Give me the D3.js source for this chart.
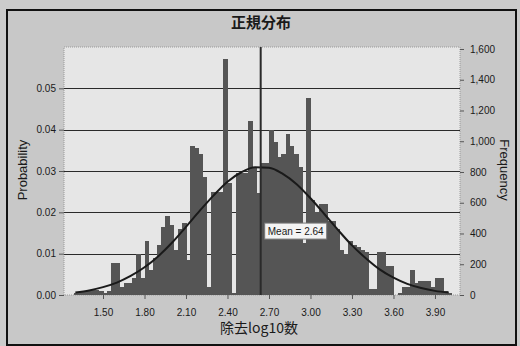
<!DOCTYPE html>
<html>
<head>
<meta charset="utf-8">
<script src="https://cdn.jsdelivr.net/npm/d3@7"></script>
<style>
  html, body { margin: 0; padding: 0; background: #cbcbcb; }
  svg { display: block; }
  text { font-family: "Liberation Sans", Arial, sans-serif; fill: #1a1a1a; }
  .cjk { font-family: "Noto Sans CJK JP", "Noto Sans CJK SC", sans-serif; }
</style>
</head>
<body>
<div id="chart"></div>
<script>
// histogram: bins of width 0.03 starting at 1.26, probability per bin
const binStart = 1.26;
const binWidth = 0.03;
const probs = [
  0, 0.0005, 0.0008, 0.001, 0.0012, 0.0015, 0.0012, 0.001, 0.0006, 0.001,
  0.0077, 0.0077, 0.002, 0.003, 0.003, 0.004, 0.010, 0.004, 0.013, 0.006,
  0.009, 0.012, 0.0165, 0.019, 0.017, 0.011, 0.016, 0.0175, 0.0085, 0.036,
  0.0355, 0.034, 0.0285, 0.002, 0.025, 0.025, 0.025, 0.057, 0.027, 0.0005,
  0.0295, 0.0295, 0.0295, 0.042, 0.031, 0.0247, 0.032, 0.032, 0.040, 0.037,
  0.0335, 0.034, 0.039, 0.036, 0.034, 0.031, 0.0126, 0.0477, 0.023, 0.020,
  0.022, 0.022, 0.018, 0.018, 0.016, 0.011, 0.010, 0.013, 0.012, 0.0115,
  0.011, 0.0105, 0.0015, 0.0015, 0.0103, 0.0103, 0.007, 0.007, 0, 0.0005,
  0.002, 0.002, 0.006, 0.003, 0.0035, 0.0033, 0.0033, 0.002, 0.004, 0.004,
  0.001, 0.0005, 0
];

// fitted normal curve
const curveX = [1.30, 1.40, 1.50, 1.60, 1.70, 1.80, 1.90, 2.00, 2.10, 2.20,
  2.30, 2.40, 2.50, 2.60, 2.70, 2.80, 2.90, 3.00, 3.10, 3.20,
  3.30, 3.40, 3.50, 3.60, 3.70, 3.80, 3.90, 4.00];
const curveY = [0.0006, 0.0011, 0.0019, 0.0030, 0.0046, 0.0067, 0.0094, 0.0127, 0.0165, 0.0204,
  0.0241, 0.0274, 0.0297, 0.0309, 0.0308, 0.0293, 0.0268, 0.0234, 0.0196, 0.0157,
  0.0120, 0.0089, 0.0062, 0.0042, 0.0027, 0.0017, 0.0010, 0.0006];

const meanValue = 2.64;

const xTicks = [1.50, 1.80, 2.10, 2.40, 2.70, 3.00, 3.30, 3.60, 3.90];
const probTicks = [0, 0.01, 0.02, 0.03, 0.04, 0.05];
const freqTicks = [0, 200, 400, 600, 800, 1000, 1200, 1400, 1600];

const width = 520, height = 346;
const plot = { left: 64, right: 460, top: 47, bottom: 295 };

const svg = d3.select('#chart').append('svg')
  .attr('width', width)
  .attr('height', height);

svg.append('rect')
  .attr('width', width).attr('height', height)
  .attr('fill', '#cbcbcb');

// outer frame
svg.append('rect')
  .attr('x', 7).attr('y', 10)
  .attr('width', 509).attr('height', 335)
  .attr('fill', '#c8c8c8')
  .attr('stroke', '#111')
  .attr('stroke-width', 2);

const x = d3.scaleLinear().domain([1.218, 4.081]).range([plot.left, plot.right]);
const y = d3.scaleLinear().domain([0, 0.06]).range([plot.bottom, plot.top]);
const yFreq = d3.scaleLinear().domain([0, 1613]).range([plot.bottom, plot.top]);

// plot area
svg.append('rect')
  .attr('x', plot.left).attr('y', plot.top)
  .attr('width', plot.right - plot.left)
  .attr('height', plot.bottom - plot.top)
  .attr('fill', '#e6e6e6')
  .attr('stroke', '#9a9a9a')
  .attr('stroke-dasharray', '1,1');

// gridlines
svg.append('g')
  .selectAll('line')
  .data(probTicks.filter(d => d > 0))
  .join('line')
  .attr('x1', plot.left).attr('x2', plot.right)
  .attr('y1', d => Math.round(y(d)) + 0.5).attr('y2', d => Math.round(y(d)) + 0.5)
  .attr('stroke', '#2a2a2a')
  .attr('stroke-width', 1.2);

// bars
svg.append('g')
  .attr('shape-rendering', 'crispEdges')
  .selectAll('rect')
  .data(probs)
  .join('rect')
  .attr('x', (d, i) => x(binStart + i * binWidth))
  .attr('width', x(binStart + binWidth) - x(binStart) + 0.6)
  .attr('y', d => y(d))
  .attr('height', d => y(0) - y(d))
  .attr('fill', '#555');

// normal curve
const line = d3.line()
  .x((d, i) => x(curveX[i]))
  .y(d => y(d))
  .curve(d3.curveMonotoneX);

svg.append('path')
  .datum(curveY)
  .attr('fill', 'none')
  .attr('stroke', '#1a1a1a')
  .attr('stroke-width', 2)
  .attr('d', line);

// mean line
svg.append('line')
  .attr('x1', x(meanValue)).attr('x2', x(meanValue))
  .attr('y1', plot.top).attr('y2', plot.bottom)
  .attr('stroke', '#2a2a2a')
  .attr('stroke-width', 2);

const meanG = svg.append('g')
  .attr('transform', `translate(${x(meanValue) + 4},${y(0.0174)})`);
meanG.append('rect')
  .attr('width', 62).attr('height', 16)
  .attr('fill', '#f4f4f4')
  .attr('stroke', '#777');
meanG.append('text')
  .attr('x', 31).attr('y', 12)
  .attr('text-anchor', 'middle')
  .attr('font-size', 10)
  .text('Mean = ' + meanValue.toFixed(2));

// left axis
const yAxis = d3.axisLeft(y)
  .tickValues(probTicks)
  .tickFormat(d3.format('.2f'))
  .tickSize(5)
  .tickPadding(3);
const gy = svg.append('g')
  .attr('transform', `translate(${plot.left},0)`)
  .call(yAxis);
gy.select('.domain').remove();
gy.selectAll('line').attr('stroke', '#555');
gy.selectAll('text').attr('font-size', 10);

// right axis
const yAxisR = d3.axisRight(yFreq)
  .tickValues(freqTicks)
  .tickFormat(d3.format(','))
  .tickSize(4)
  .tickPadding(6);
const gr = svg.append('g')
  .attr('transform', `translate(${plot.right},0)`)
  .call(yAxisR);
gr.select('.domain').remove();
gr.selectAll('line').attr('stroke', '#555');
gr.selectAll('text').attr('font-size', 10);

// x axis
const xAxis = d3.axisBottom(x)
  .tickValues(xTicks)
  .tickFormat(d3.format('.2f'))
  .tickSize(4)
  .tickPadding(10);
const gx = svg.append('g')
  .attr('transform', `translate(0,${plot.bottom})`)
  .call(xAxis);
gx.select('.domain').remove();
gx.selectAll('line').attr('stroke', '#555');
gx.selectAll('text').attr('font-size', 10);

// titles
svg.append('text')
  .attr('class', 'cjk')
  .attr('x', 261).attr('y', 28)
  .attr('text-anchor', 'middle')
  .attr('font-size', 15)
  .attr('font-weight', 'bold')
  .text('正規分布');

svg.append('text')
  .attr('class', 'cjk')
  .attr('x', 259).attr('y', 333)
  .attr('text-anchor', 'middle')
  .attr('font-size', 14)
  .text('除去log10数');

svg.append('text')
  .attr('transform', 'translate(27,170) rotate(-90)')
  .attr('text-anchor', 'middle')
  .attr('font-size', 13)
  .text('Probability');

svg.append('text')
  .attr('transform', 'translate(500,170) rotate(90)')
  .attr('text-anchor', 'middle')
  .attr('font-size', 13)
  .text('Frequency');
</script>
</body>
</html>
